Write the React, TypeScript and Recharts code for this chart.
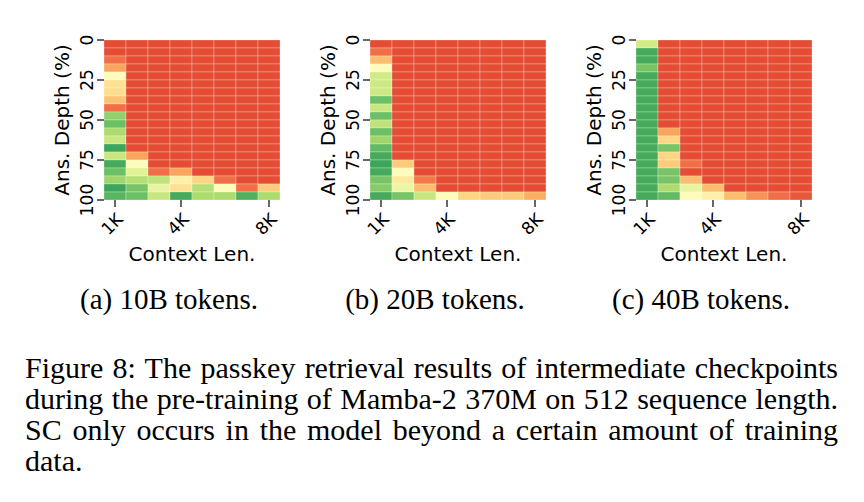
import React from "react";
import { BarChart, Bar, XAxis, YAxis, Cell, Label } from "recharts";

// context lengths (columns) and answer depth bins (rows, 5% each)
const contextLens = ["1K", "2K", "3K", "4K", "5K", "6K", "7K", "8K"];
const shownLens = ["1K", "4K", "8K"];
const depthTicks = [0, 25, 50, 75, 100];
const depthBins = [0, 5, 10, 15, 20, 25, 30, 35, 40, 45, 50, 55, 60, 65, 70, 75, 80, 85, 90, 95];
const BIN = 5;

// passkey accuracy per depth row (top -> bottom), per context length
const scores10B = [
  [0, 0, 0, 0, 0, 0, 0, 0],
  [0, 0, 0, 0, 0, 0, 0, 0],
  [0.15, 0, 0, 0, 0, 0, 0, 0],
  [0.3, 0, 0, 0, 0, 0, 0, 0],
  [0.5, 0, 0, 0, 0, 0, 0, 0],
  [0.43, 0, 0, 0, 0, 0, 0, 0],
  [0.42, 0, 0, 0, 0, 0, 0, 0],
  [0.36, 0, 0, 0, 0, 0, 0, 0],
  [0.15, 0, 0, 0, 0, 0, 0, 0],
  [0.74, 0, 0, 0, 0, 0, 0, 0],
  [0.8, 0, 0, 0, 0, 0, 0, 0],
  [0.7, 0, 0, 0, 0, 0, 0, 0],
  [0.64, 0, 0, 0, 0, 0, 0, 0],
  [0.9, 0, 0, 0, 0, 0, 0, 0],
  [0.64, 0.3, 0, 0, 0, 0, 0, 0],
  [0.88, 0.5, 0, 0, 0, 0, 0, 0],
  [0.8, 0.58, 0.15, 0.3, 0, 0, 0, 0],
  [0.72, 0.68, 0.66, 0.47, 0.4, 0.15, 0, 0],
  [0.9, 0.78, 0.56, 0.43, 0.68, 0.5, 0.15, 0.38],
  [0.84, 0.8, 0.64, 0.88, 0.7, 0.7, 0.86, 0.7],
];

const scores20B = [
  [0, 0, 0, 0, 0, 0, 0, 0],
  [0.15, 0, 0, 0, 0, 0, 0, 0],
  [0.35, 0, 0, 0, 0, 0, 0, 0],
  [0.5, 0, 0, 0, 0, 0, 0, 0],
  [0.62, 0, 0, 0, 0, 0, 0, 0],
  [0.63, 0, 0, 0, 0, 0, 0, 0],
  [0.63, 0, 0, 0, 0, 0, 0, 0],
  [0.8, 0, 0, 0, 0, 0, 0, 0],
  [0.64, 0, 0, 0, 0, 0, 0, 0],
  [0.8, 0, 0, 0, 0, 0, 0, 0],
  [0.66, 0, 0, 0, 0, 0, 0, 0],
  [0.8, 0, 0, 0, 0, 0, 0, 0],
  [0.72, 0, 0, 0, 0, 0, 0, 0],
  [0.82, 0, 0, 0, 0, 0, 0, 0],
  [0.88, 0, 0, 0, 0, 0, 0, 0],
  [0.9, 0.38, 0, 0, 0, 0, 0, 0],
  [0.88, 0.5, 0, 0, 0, 0, 0, 0],
  [0.78, 0.45, 0.18, 0, 0, 0, 0, 0],
  [0.76, 0.55, 0.35, 0, 0, 0, 0, 0],
  [0.88, 0.78, 0.64, 0.5, 0.4, 0.38, 0.38, 0.32],
];

const scores40B = [
  [0.62, 0, 0, 0, 0, 0, 0, 0],
  [0.88, 0, 0, 0, 0, 0, 0, 0],
  [0.88, 0, 0, 0, 0, 0, 0, 0],
  [0.78, 0, 0, 0, 0, 0, 0, 0],
  [0.88, 0, 0, 0, 0, 0, 0, 0],
  [0.88, 0, 0, 0, 0, 0, 0, 0],
  [0.88, 0, 0, 0, 0, 0, 0, 0],
  [0.88, 0, 0, 0, 0, 0, 0, 0],
  [0.88, 0, 0, 0, 0, 0, 0, 0],
  [0.88, 0, 0, 0, 0, 0, 0, 0],
  [0.88, 0, 0, 0, 0, 0, 0, 0],
  [0.88, 0.3, 0, 0, 0, 0, 0, 0],
  [0.88, 0.4, 0, 0, 0, 0, 0, 0],
  [0.88, 0.78, 0, 0, 0, 0, 0, 0],
  [0.88, 0.4, 0, 0, 0, 0, 0, 0],
  [0.88, 0.38, 0.15, 0, 0, 0, 0, 0],
  [0.88, 0.78, 0, 0, 0, 0, 0, 0],
  [0.88, 0.78, 0.35, 0, 0, 0, 0, 0],
  [0.88, 0.7, 0.56, 0.35, 0, 0, 0, 0],
  [0.88, 0.82, 0.5, 0.47, 0.35, 0.25, 0.15, 0.05],
];

const panels = [
  { caption: "(a) 10B tokens.", scores: scores10B },
  { caption: "(b) 20B tokens.", scores: scores20B },
  { caption: "(c) 40B tokens.", scores: scores40B },
];

const captionLines = [
  "Figure 8: The passkey retrieval results of intermediate checkpoints",
  "during the pre-training of Mamba-2 370M on 512 sequence length.",
  "SC only occurs in the model beyond a certain amount of training",
  "data.",
];

// red -> yellow -> green, roughly RdYlGn
const stops: [number, number[]][] = [
  [0, [228, 76, 52]],
  [0.15, [242, 110, 70]],
  [0.3, [251, 165, 92]],
  [0.4, [254, 213, 130]],
  [0.5, [254, 252, 186]],
  [0.6, [218, 239, 140]],
  [0.7, [172, 219, 110]],
  [0.8, [108, 192, 100]],
  [0.9, [59, 166, 89]],
  [1, [43, 154, 80]],
];

function colorOf(v: number) {
  for (let i = 1; i < stops.length; i++) {
    const [p1, c1] = stops[i];
    const [p0, c0] = stops[i - 1];
    if (v <= p1) {
      const t = (v - p0) / (p1 - p0);
      const c = c0.map((a, k) => Math.round(a + (c1[k] - a) * t));
      return `rgb(${c[0]},${c[1]},${c[2]})`;
    }
  }
  const c = stops[stops.length - 1][1];
  return `rgb(${c[0]},${c[1]},${c[2]})`;
}

const FONT = "DejaVu Sans";
const TICK_SIZE = 17;
const LABEL_SIZE = 20;

const XTick = (props: any) => {
  const { x, y, payload } = props;
  if (!shownLens.includes(payload.value)) return <g />;
  return (
    <g>
      <line x1={x} x2={x} y1={y} y2={y + 7} stroke="#000" strokeWidth={1.2} />
      <text
        x={x - 3}
        y={y + 24}
        transform={`rotate(-45 ${x - 3} ${y + 24})`}
        textAnchor="middle"
        dominantBaseline="central"
        fontFamily={FONT}
        fontSize={TICK_SIZE}
        fill="#000"
      >
        {payload.value}
      </text>
    </g>
  );
};

const YTick = (props: any) => {
  const { x, y, payload } = props;
  return (
    <g>
      <line x1={x - 7} x2={x} y1={y} y2={y} stroke="#000" strokeWidth={1.2} />
      <text
        x={x - 17}
        y={y}
        transform={`rotate(-90 ${x - 17} ${y})`}
        textAnchor="middle"
        dominantBaseline="central"
        fontFamily={FONT}
        fontSize={TICK_SIZE}
        fill="#000"
      >
        {payload.value}
      </text>
    </g>
  );
};

function Heatmap({ scores }: { scores: number[][] }) {
  const data = contextLens.map((ctx) => {
    const row: any = { ctx };
    depthBins.forEach((_, i) => {
      row[`b${i}`] = BIN;
    });
    return row;
  });

  return (
    <BarChart
      width={250}
      height={256}
      data={data}
      margin={{ top: 20, right: 10, bottom: 0, left: 0 }}
      barCategoryGap={0}
      barGap={0}
    >
      <XAxis
        dataKey="ctx"
        type="category"
        interval={0}
        axisLine={false}
        tickLine={false}
        tickSize={0}
        tickMargin={0}
        height={76}
        tick={<XTick />}
      >
        <Label
          value="Context Len."
          position="insideBottom"
          offset={15}
          style={{ fontFamily: FONT, fontSize: LABEL_SIZE, fill: "#000" }}
        />
      </XAxis>
      <YAxis
        type="number"
        domain={[0, 100]}
        reversed
        ticks={depthTicks}
        interval={0}
        axisLine={false}
        tickLine={false}
        tickSize={0}
        tickMargin={0}
        width={64}
        tick={<YTick />}
      >
        <Label
          content={(p: any) => {
            const vb = p.viewBox || { x: 0, y: 20, width: 64, height: 160 };
            const cx = vb.x + 22;
            const cy = vb.y + vb.height / 2;
            return (
              <text
                x={cx}
                y={cy}
                transform={`rotate(-90 ${cx} ${cy})`}
                textAnchor="middle"
                dominantBaseline="central"
                fontFamily={FONT}
                fontSize={LABEL_SIZE}
                fill="#000"
              >
                Ans. Depth (%)
              </text>
            );
          }}
        />
      </YAxis>
      {depthBins.map((d, i) => (
        <Bar key={d} dataKey={`b${i}`} stackId="depth" isAnimationActive={false}>
          {contextLens.map((c, j) => (
            <Cell
              key={c}
              fill={colorOf(scores[i][j])}
              stroke="rgba(255,255,255,0.35)"
              strokeWidth={0.8}
            />
          ))}
        </Bar>
      ))}
    </BarChart>
  );
}

export default function App() {
  return (
    <div
      style={{
        position: "absolute",
        left: 0,
        top: 0,
        width: 864,
        height: 502,
        background: "#fff",
        overflow: "hidden",
      }}
    >
      {panels.map((p, k) => (
        <div key={p.caption} style={{ position: "absolute", left: 40 + k * 266, top: 20 }}>
          <Heatmap scores={p.scores} />
        </div>
      ))}
      {panels.map((p, k) => (
        <div
          key={p.caption + "-cap"}
          style={{
            position: "absolute",
            left: 169 + k * 266 - 130,
            width: 260,
            top: 283,
            textAlign: "center",
            fontFamily: "Liberation Serif",
            fontSize: 29,
            color: "#000",
          }}
        >
          {p.caption}
        </div>
      ))}
      <div
        style={{
          position: "absolute",
          left: 25,
          top: 352,
          width: 813,
          fontFamily: "Liberation Serif",
          fontSize: 30,
          lineHeight: "31px",
          color: "#000",
        }}
      >
        {captionLines.map((line, i) => (
          <div
            key={i}
            style={{
              whiteSpace: "nowrap",
              textAlign: i < captionLines.length - 1 ? "justify" : "left",
              textAlignLast: i < captionLines.length - 1 ? "justify" : "left",
            }}
          >
            {line}
          </div>
        ))}
      </div>
    </div>
  );
}
